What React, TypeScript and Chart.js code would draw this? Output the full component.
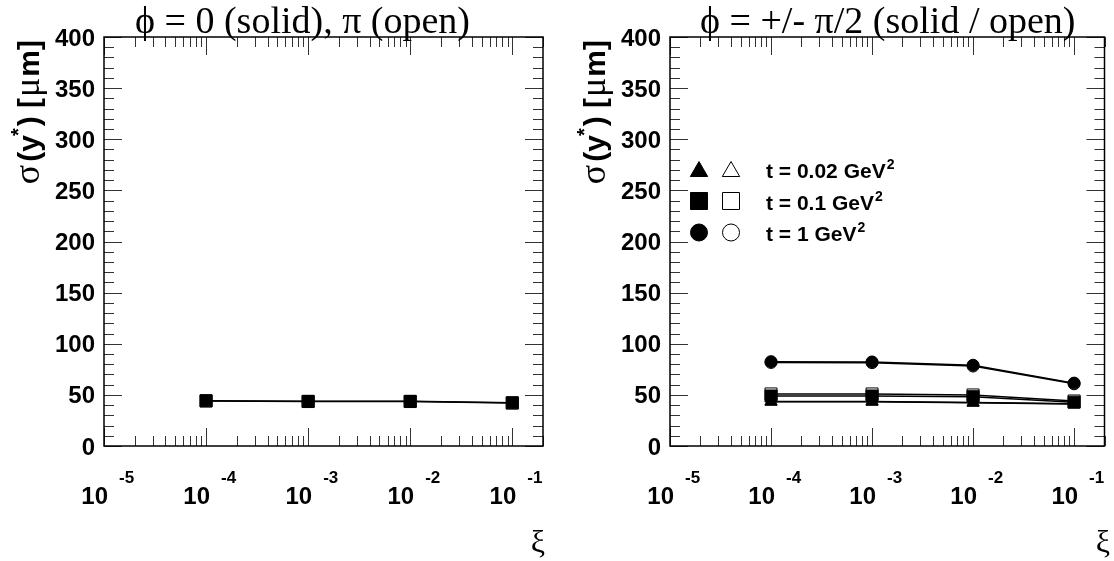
import React, { useEffect, useRef } from "react";
import { Chart, registerables } from "chart.js";
import { drawPoint } from "chart.js/helpers";

Chart.register(...registerables);

// ---------------- data ----------------
const xiValues = [1e-4, 1e-3, 1e-2, 1e-1];

// left panel: phi = 0 (solid), pi (open)
const leftSolidSquare = [44.3, 43.7, 43.7, 42.3];
const leftOpenSquare = [44.0, 43.5, 43.5, 42.0];

// right panel: phi = +/- pi/2 (solid / open)
const rightSolidTriangle = [43.3, 43.3, 42.3, 41.0];
const rightOpenTriangle = [43.6, 43.6, 42.6, 41.3];
const rightSolidSquare = [48.9, 48.9, 48.2, 42.8];
const rightOpenSquare = [50.9, 50.9, 49.9, 44.0];
const rightSolidCircle = [82.5, 82.2, 79.0, 61.5];
const rightOpenCircle = [81.7, 81.5, 78.2, 60.8];

const yTickLabels = [0, 50, 100, 150, 200, 250, 300, 350, 400];
const xDecadeExponents = [-5, -4, -3, -2, -1];
const legendLabels = ["t = 0.02 GeV", "t = 0.1 GeV", "t = 1 GeV"];
const legendStyles = ["triangle", "rect", "circle"];
const panelTitles = ["\u03d5 = 0 (solid), \u03c0 (open)", "\u03d5 = +/- \u03c0/2 (solid / open)"];
const xMin = 1e-5;
const xMax = 0.2;
const yMin = 0;
const yMax = 400;

// ---------------- helpers ----------------
type Run = { text: string; font: string; dy?: number; dx?: number };

function runsWidth(ctx: CanvasRenderingContext2D, runs: Run[]) {
  let w = 0;
  for (const r of runs) {
    ctx.font = r.font;
    w += (r.dx || 0) + ctx.measureText(r.text).width;
  }
  return w;
}

function drawRuns(ctx: CanvasRenderingContext2D, runs: Run[], x: number, y: number) {
  let cx = x;
  ctx.textAlign = "left";
  ctx.textBaseline = "alphabetic";
  for (const r of runs) {
    ctx.font = r.font;
    cx += r.dx || 0;
    ctx.fillText(r.text, cx, y + (r.dy || 0));
    cx += ctx.measureText(r.text).width;
  }
}

const SANS = '"Liberation Sans", Arial, Helvetica, sans-serif';
const SERIF = '"Liberation Serif", "DejaVu Serif", "Times New Roman", serif';

type PanelOpts = {
  title: string;
  titleX: number;
  yTitleX: number;
  xiX: number;
  legend: boolean;
  legendOffset: number;
};

function makePanelPlugin(opts: PanelOpts) {
  return {
    id: "rootFrame",
    afterDraw(chart: any) {
      const ctx: CanvasRenderingContext2D = chart.ctx;
      const { left, right, top, bottom } = chart.chartArea;
      const xs = chart.scales.x;
      const ys = chart.scales.y;
      ctx.save();

      // ticks
      ctx.strokeStyle = "#333";
      ctx.lineWidth = 1;
      ctx.beginPath();
      for (let v = yMin; v <= yMax; v += 10) {
        const py = Math.round(ys.getPixelForValue(v)) + 0.5;
        const len = v % 50 === 0 ? 18 : 10;
        ctx.moveTo(left, py);
        ctx.lineTo(left + len, py);
        ctx.moveTo(right, py);
        ctx.lineTo(right - len, py);
      }
      for (const d of xDecadeExponents) {
        for (let m = 1; m <= 9; m++) {
          const val = m * Math.pow(10, d);
          if (val < xMin * 0.999 || val > xMax * 1.001) continue;
          const px = Math.round(xs.getPixelForValue(val)) + 0.5;
          const len = m === 1 ? 18 : 10;
          ctx.moveTo(px, bottom);
          ctx.lineTo(px, bottom - len);
          ctx.moveTo(px, top);
          ctx.lineTo(px, top + len);
        }
      }
      ctx.stroke();

      // frame
      ctx.strokeStyle = "#000";
      ctx.lineWidth = 1.5;
      ctx.strokeRect(left, top, right - left, bottom - top);

      // y tick labels
      ctx.fillStyle = "#000";
      ctx.font = `bold 24px ${SANS}`;
      ctx.textAlign = "right";
      ctx.textBaseline = "alphabetic";
      for (const v of yTickLabels) {
        const py = ys.getPixelForValue(v);
        ctx.fillText(String(v), left - 9, py + 8.5);
      }

      // x tick labels (10^n)
      for (const e of xDecadeExponents) {
        const px = xs.getPixelForValue(Math.pow(10, e));
        ctx.font = `bold 24px ${SANS}`;
        ctx.textAlign = "right";
        ctx.fillText("10", px + 4, 504);
        ctx.font = `bold 17px ${SANS}`;
        ctx.textAlign = "left";
        ctx.fillText(String(e), px + 15, 483);
      }

      // x axis title
      ctx.font = `32px ${SERIF}`;
      ctx.textAlign = "right";
      ctx.fillText("\u03be", opts.xiX, 552);

      // title
      ctx.font = `38px ${SERIF}`;
      ctx.textAlign = "left";
      ctx.fillText(opts.title, opts.titleX, 33);

      // y axis title (rotated)
      const yRuns: Run[] = [
        { text: "\u03c3", font: `36px ${SERIF}` },
        { text: "(y", font: `bold 30px ${SANS}`, dx: 3 },
        { text: "*", font: `bold 20px ${SANS}`, dy: -14, dx: -1 },
        { text: ") [", font: `bold 30px ${SANS}`, dx: 2 },
        { text: "\u03bc", font: `36px ${SERIF}`, dx: 1 },
        { text: "m]", font: `bold 30px ${SANS}`, dx: 1 },
      ];
      ctx.save();
      ctx.translate(opts.yTitleX, 40);
      ctx.rotate(-Math.PI / 2);
      const w = runsWidth(ctx, yRuns);
      drawRuns(ctx, yRuns, -w, 0);
      ctx.restore();

      // legend
      if (opts.legend) {
        const rowY = [169.5, 201, 232.5];
        const radii: Record<string, number> = { triangle: 10, rect: 12, circle: 8.5 };
        legendLabels.forEach((lab, i) => {
          const style = legendStyles[i];
          const cy = rowY[i];
          const r = radii[style];
          const yOff = style === "triangle" ? 2 : 0;
          ctx.strokeStyle = "#000";
          ctx.lineWidth = 1;
          ctx.fillStyle = "#000";
          drawPoint(ctx, { pointStyle: style, radius: r, rotation: 0, borderWidth: 1 } as any, 699 + opts.legendOffset, cy + yOff);
          ctx.fillStyle = "#fff";
          drawPoint(ctx, { pointStyle: style, radius: r, rotation: 0, borderWidth: 1 } as any, 731 + opts.legendOffset, cy + yOff);
          ctx.fillStyle = "#000";
          drawRuns(
            ctx,
            [
              { text: lab, font: `bold 21px ${SANS}` },
              { text: "2", font: `bold 14px ${SANS}`, dy: -9, dx: 1 },
            ],
            766 + opts.legendOffset,
            cy + 8.5
          );
        });
      }
      ctx.restore();
    },
  };
}

function series(vals: number[]) {
  return xiValues.map((x, i) => ({ x, y: vals[i] }));
}

function ds(vals: number[], style: string, radius: number, solid: boolean) {
  return {
    data: series(vals),
    showLine: true,
    borderColor: "#000",
    borderWidth: 1.5,
    tension: 0,
    pointStyle: style,
    pointRadius: radius,
    pointHoverRadius: radius,
    pointBackgroundColor: solid ? "#000" : "#fff",
    pointBorderColor: "#000",
    pointBorderWidth: 1,
    order: solid ? 0 : 1,
  };
}

function Panel(props: { datasets: any[]; padLeft: number; padRight: number; plugin: any; left: number }) {
  const ref = useRef<HTMLCanvasElement | null>(null);
  useEffect(() => {
    if (!ref.current) return;
    const chart = new Chart(ref.current, {
      type: "scatter",
      data: { datasets: props.datasets },
      options: {
        animation: false,
        responsive: false,
        devicePixelRatio: 1,
        layout: { padding: { left: props.padLeft, right: props.padRight, top: 37, bottom: 115 } },
        plugins: { legend: { display: false }, tooltip: { enabled: false }, title: { display: false } },
        events: [],
        scales: {
          x: { type: "logarithmic", min: xMin, max: xMax, display: false },
          y: { type: "linear", min: yMin, max: yMax, display: false },
        },
      } as any,
      plugins: [props.plugin],
    });
    return () => chart.destroy();
  }, []);
  return (
    <canvas
      ref={ref}
      width={557}
      height={561}
      style={{ position: "absolute", left: props.left, top: 0, width: 557, height: 561 }}
    />
  );
}

export default function App() {
  const leftDatasets = [ds(leftSolidSquare, "rect", 8.5, true), ds(leftOpenSquare, "rect", 8.5, false)];
  const rightDatasets = [
    ds(rightSolidCircle, "circle", 6, true),
    ds(rightOpenCircle, "circle", 6, false),
    ds(rightSolidSquare, "rect", 8.5, true),
    ds(rightOpenSquare, "rect", 8.5, false),
    ds(rightSolidTriangle, "triangle", 7, true),
    ds(rightOpenTriangle, "triangle", 7, false),
  ];
  const leftPlugin = makePanelPlugin({ title: panelTitles[0], titleX: 135, yTitleX: 39, xiX: 545, legend: false, legendOffset: 0 });
  const rightPlugin = makePanelPlugin({ title: panelTitles[1], titleX: 143, yTitleX: 48, xiX: 553, legend: true, legendOffset: -557 });
  return (
    <div style={{ position: "fixed", left: 0, top: 0, width: 1114, height: 561, background: "#fff", overflow: "hidden" }}>
      <Panel datasets={leftDatasets} padLeft={104} padRight={14} plugin={leftPlugin} left={0} />
      <Panel datasets={rightDatasets} padLeft={113} padRight={6} plugin={rightPlugin} left={557} />
    </div>
  );
}
